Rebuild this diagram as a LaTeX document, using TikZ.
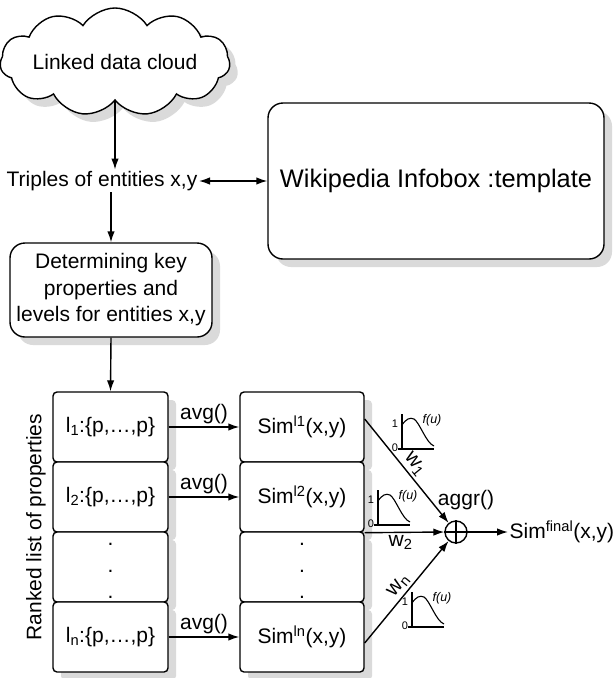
\documentclass[tikz,border=0pt]{standalone}
\usepackage{fontspec}
\setmainfont{Liberation Sans}
\usetikzlibrary{arrows.meta,shapes.symbols,shadows,calc}
\definecolor{shadowgray}{RGB}{218,218,218}
\tikzset{
  txt/.style={font=\fontsize{21}{26.5}\selectfont, inner sep=1pt},
  shad/.style={drop shadow={shadow xshift=8pt,shadow yshift=-8pt,fill=shadowgray,opacity=1}},
  arr/.style={-{Latex[length=11pt,width=7.5pt]}},
  rbox/.style={draw, fill=white, rounded corners=15pt, shad, txt, align=center},
  cell/.style={draw, fill=white, rounded corners=4pt, shad, txt, minimum height=70pt, inner sep=0pt},
  tiny/.style={font=\fontsize{11}{12}\selectfont, inner sep=0pt},
  fsmall/.style={font=\fontsize{12.5}{14}\selectfont\itshape, inner sep=0pt},
  fplot/.pic={
    \draw[line width=1.8pt] (0,0) -- (0,-35);
    \draw[line width=1.8pt] (-4,0) -- (32,0);
    \draw[line width=1.1pt] (0,-24) .. controls (4,-30) and (8,-32) .. (12,-30) .. controls (18,-26) and (24,-6) .. (32,-3);
    \node[tiny] (-one) at (-7,-25) {1};
    \node[tiny] (-zero) at (-7,-1) {0};
    \node[fsmall] (-f) at (30,-29) {f(u)};
  }
}
\begin{document}
\begin{tikzpicture}[x=1pt,y=-1pt,line width=1.4pt]
\useasboundingbox (0,0) rectangle (615,678);

% top part
\node[cloud, cloud puffs=11, cloud puff arc=115, cloud ignores aspect, draw, fill=white, shad, txt,
      minimum width=208pt, minimum height=108pt] (cloud) at (115,62) {Linked data cloud};
\node[txt] (triples) at (102,181) {Triples of entities x,y};
\node[rbox, minimum width=336pt, minimum height=156pt, font=\fontsize{25.4}{30}\selectfont] (wiki) at (436,181) {Wikipedia Infobox :template};
\node[rbox, minimum width=202pt, minimum height=94pt, inner sep=2pt] (det) at (111,290)
  {Determining key\\properties and\\levels for entities x,y};

\draw[arr] (cloud.south) -- (cloud.south |- triples.north);
\draw[{Latex[length=11pt,width=7.5pt]}-{Latex[length=11pt,width=7.5pt]}] (triples.east) -- (wiki.west |- triples.east);
\draw[arr] (triples.south -| det.north) -- (det.north);

% list of levels
\node[cell, minimum width=115pt] (l1) at (110.5,427) {l\textsubscript{1}:\{p,…,p\}};
\node[cell, minimum width=115pt] (l2) at (110.5,497) {l\textsubscript{2}:\{p,…,p\}};
\node[cell, minimum width=115pt] (l3) at (110.5,567) {};
\node[cell, minimum width=115pt] (ln) at (110.5,637) {l\textsubscript{n}:\{p,…,p\}};
\node[txt, align=center] (l3dots) at (110.5,571) {.\\.\\.};

\node[cell, minimum width=124pt] (s1) at (302,427) {Sim\textsuperscript{l1}(x,y)};
\node[cell, minimum width=124pt] (s2) at (302,497) {Sim\textsuperscript{l2}(x,y)};
\node[cell, minimum width=124pt] (s3) at (302,567) {};
\node[cell, minimum width=124pt] (sn) at (302,637) {Sim\textsuperscript{ln}(x,y)};
\node[txt, align=center] (s3dots) at (302,571) {.\\.\\.};

\node[txt, rotate=90] (ranked) at (36,527) {Ranked list of properties};

\draw[arr] (det.south) -- (l1.north);

\draw[arr] (l1.east) -- node[txt, above=1pt] (a1) {avg()} (s1.west);
\draw[arr] (l2.east) -- node[txt, above=1pt] (a2) {avg()} (s2.west);
\draw[arr] (ln.east) -- node[txt, above=1pt] (an) {avg()} (sn.west);

% aggregation
\node[draw, circle, minimum size=22pt, inner sep=0pt] (sum) at (456,532) {};
\draw (sum.north) -- (sum.south) (sum.west) -- (sum.east);
\node[txt, anchor=base] (aggr) at (466,505) {aggr()};

\coordinate (s1o) at ([yshift=8pt]s1.east);
\coordinate (sno) at ([yshift=-6pt]sn.east);
\draw[arr] (s1o) -- node[txt, pos=0.5, sloped, above=1.5pt] (w1) {w\textsubscript{1}} (sum);
\draw[arr] (s2.south east) -- node[txt, pos=0.45, below=1pt] (w2) {w\textsubscript{2}} (sum.west);
\draw[arr] (sno) -- node[txt, pos=0.5, sloped, above=1.5pt] (wn) {w\textsubscript{n}} (sum);

\node[txt, anchor=west] (final) at (508,532) {Sim\textsuperscript{final}(x,y)};
\draw[arr] (sum.east) -- (final.west);

% membership function plots
\pic (p1) at (402,449) {fplot};
\pic (p2) at (378,525) {fplot};
\pic (p3) at (412,627) {fplot};
\end{tikzpicture}
\end{document}
